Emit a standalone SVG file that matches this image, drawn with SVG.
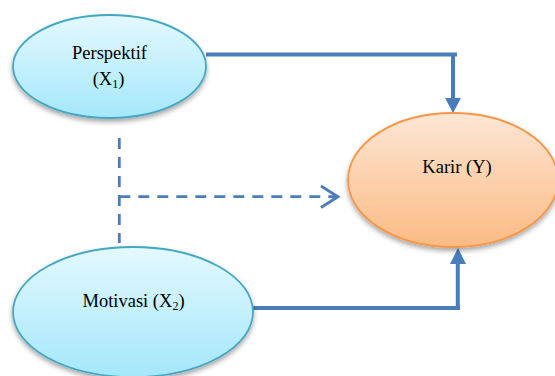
<svg xmlns="http://www.w3.org/2000/svg" width="555" height="376" viewBox="0 0 555 376">
<defs>
<linearGradient id="gBlue" x1="0" y1="0" x2="0" y2="1">
<stop offset="0" stop-color="#e3f9fe"/>
<stop offset="1" stop-color="#a5e7fb"/>
</linearGradient>
<linearGradient id="gOrange" x1="0" y1="0" x2="0" y2="1">
<stop offset="0" stop-color="#fde6d5"/>
<stop offset="1" stop-color="#fbbb84"/>
</linearGradient>
<filter id="shadow" x="-20%" y="-20%" width="140%" height="150%">
<feDropShadow dx="0" dy="3" stdDeviation="2.5" flood-color="#000" flood-opacity="0.35"/>
</filter>
</defs>
<style>
.blue{fill:url(#gBlue);stroke:#44a7c2;stroke-width:1.8}
.orange{fill:url(#gOrange);stroke:#f79646;stroke-width:1.8}
.lbl{font-family:'Liberation Serif','Times New Roman',serif;font-size:18.5px;fill:#000;text-anchor:middle}
.sub{font-size:12px}
.solid{fill:none;stroke:#4a7ebb;stroke-width:4}
.dash{fill:none;stroke:#4a7ebb;stroke-width:2.8;stroke-dasharray:11 8}
.head{fill:#4a7ebb}
</style>
<g id="connectors">
<path class="solid" d="M206 54.5 H457"/>
<path class="solid" d="M453 54.5 V99"/>
<polygon class="head" points="445,98 461,98 453,113"/>
<path class="solid" d="M252 308 H460"/>
<path class="solid" d="M457.8 310 V263"/>
<polygon class="head" points="450,264 466,264 458,248"/>
<path class="dash" d="M119.3 138 V243"/>
<path class="dash" d="M119.3 196.7 H336"/>
<polyline points="321,186 338,196.7 321,207.5" fill="none" stroke="#4a7ebb" stroke-width="2.8"/>
</g>
<g id="perspektif">
<ellipse class="blue" cx="109.5" cy="66.5" rx="96.5" ry="51.5" filter="url(#shadow)"/>
<text class="lbl" x="109.5" y="59">Perspektif</text>
<text class="lbl" x="108.5" y="85">(X<tspan class="sub" dy="3">1</tspan><tspan dy="-3">)</tspan></text>
</g>
<g id="karir">
<ellipse class="orange" cx="453" cy="180" rx="105" ry="67" filter="url(#shadow)"/>
<text class="lbl" x="457" y="172.5">Karir (Y)</text>
</g>
<g id="motivasi">
<ellipse class="blue" cx="133" cy="312" rx="120" ry="65" filter="url(#shadow)"/>
<text class="lbl" x="133.5" y="307">Motivasi (X<tspan class="sub" dy="3">2</tspan><tspan dy="-3">)</tspan></text>
</g>
</svg>
